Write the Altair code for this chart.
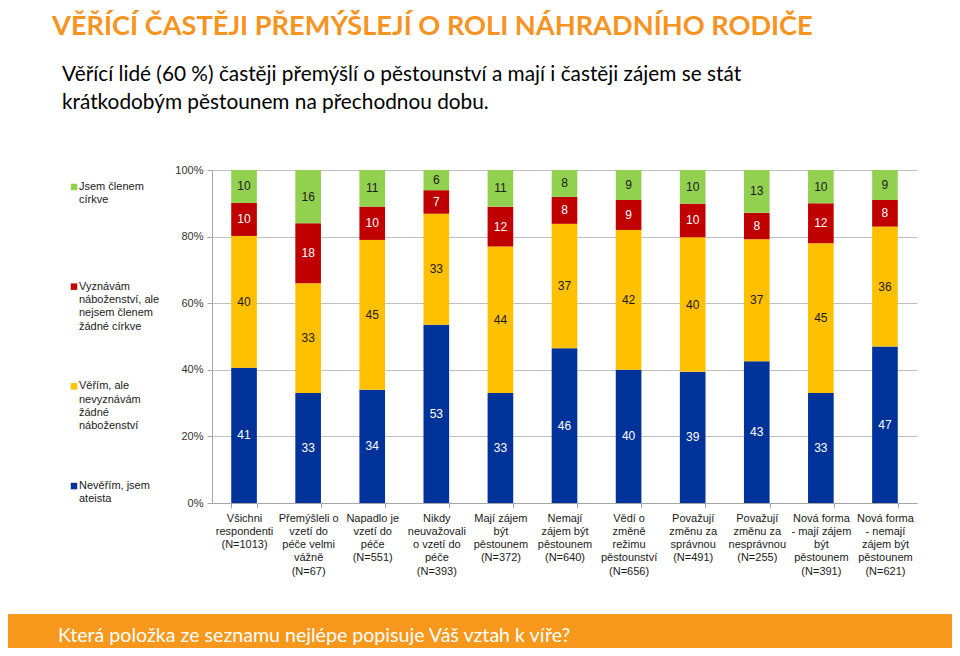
import altair as alt
import pandas as pd

# ---- data ----
categories = [
    "Všichni|respondenti|(N=1013)",
    "Přemýšleli o|vzetí do|péče velmi|vážně|(N=67)",
    "Napadlo je|vzetí do|péče|(N=551)",
    "Nikdy|neuvažovali|o vzetí do|péče|(N=393)",
    "Mají zájem|být|pěstounem|(N=372)",
    "Nemají|zájem být|pěstounem|(N=640)",
    "Vědí o|změně|režimu|pěstounství|(N=656)",
    "Považují|změnu za|správnou|(N=491)",
    "Považují|změnu za|nesprávnou|(N=255)",
    "Nová forma|- mají zájem|být|pěstounem|(N=391)",
    "Nová forma|- nemají|zájem být|pěstounem|(N=621)",
]
series = [
    "Nevěřím, jsem|ateista",
    "Věřím, ale|nevyznávám|žádné|náboženství",
    "Vyznávám|náboženství, ale|nejsem členem|žádné církve",
    " Jsem členem|církve",
]
atheist = [41, 33, 34, 53, 33, 46, 40, 39, 43, 33, 47]
believer = [40, 33, 45, 33, 44, 37, 42, 40, 37, 45, 36]
religion = [10, 18, 10, 7, 12, 8, 9, 10, 8, 12, 8]
church = [10, 16, 11, 6, 11, 8, 9, 10, 13, 10, 9]
colors = ["#003399", "#FFC000", "#C00000", "#92D050"]
label_colors = ["#FFFFFF", "#1A1A1A", "#FFFFFF", "#1A1A1A"]
y_ticks = [0, 0.2, 0.4, 0.6, 0.8, 1.0]

title_text = "VĚŘÍCÍ ČASTĚJI PŘEMÝŠLEJÍ O ROLI NÁHRADNÍHO RODIČE"
subtitle_lines = [
    "Věřící lidé (60 %) častěji přemýšlí o pěstounství a mají i častěji zájem se stát",
    "krátkodobým pěstounem na přechodnou dobu.",
]
footer_text = "Která položka ze seznamu nejlépe popisuje Váš vztah k víře?"

rows = []
for vals, s_i in zip([atheist, believer, religion, church], range(4)):
    for c_i, v in enumerate(vals):
        rows.append({"category": categories[c_i], "cat_order": c_i,
                     "series": series[s_i], "order": s_i, "value": v,
                     "lab_color": label_colors[s_i]})
df = pd.DataFrame(rows)

color_scale = alt.Scale(domain=series, range=colors)
W, H = 705, 333
AXIS_FONT = "Liberation Sans"
SLIDE_FONT = "Lato"

base = alt.Chart(df).transform_stack(
    stack="value", groupby=["category"], as_=["y0", "y1"],
    offset="normalize", sort=[alt.SortField("order", "ascending")]
).transform_calculate(mid="(datum.y0 + datum.y1) / 2")

x_enc = alt.X("category:N", sort=categories, title=None,
              scale=alt.Scale(paddingInner=0.6, paddingOuter=0.3),
              axis=alt.Axis(labelExpr="split(datum.label, '|')", labelAngle=0,
                            labelFont=AXIS_FONT, labelFontSize=11, labelColor="#1A1A1A",
                            labelLineHeight=13.3, labelPadding=4, labelLimit=200,
                            labelBaseline="top",
                            tickBand="extent", ticks=True, tickSize=5,
                            tickColor="#A6A6A6", domainColor="#A6A6A6", grid=False))

bars = base.mark_bar().encode(
    x=x_enc,
    y=alt.Y("y0:Q", title=None, scale=alt.Scale(domain=[0, 1]),
            axis=alt.Axis(values=y_ticks, format="%", labelFont=AXIS_FONT,
                          labelFontSize=11, labelColor="#333333", labelPadding=4,
                          tickSize=5, tickColor="#A6A6A6", domainColor="#A6A6A6",
                          gridColor="#BFBFBF")),
    y2="y1:Q",
    color=alt.Color("series:N", scale=color_scale, legend=None),
)

labels = base.mark_text(font=AXIS_FONT, fontSize=12, baseline="middle").encode(
    x=alt.X("category:N", sort=categories),
    y=alt.Y("mid:Q", scale=alt.Scale(domain=[0, 1]), axis=None),
    text=alt.Text("value:Q"),
    color=alt.Color("lab_color:N", scale=None),
)

# legend built from the series list
leg_df = pd.DataFrame({"series": series, "pos": list(range(4))})
leg_y = alt.Y("series:N", sort=list(reversed(series)),
              scale=alt.Scale(type="point", padding=0.17), axis=None)
leg_sym = alt.Chart(leg_df).mark_square(size=42, opacity=1).encode(
    x=alt.value(-138), y=leg_y,
    color=alt.Color("series:N", scale=color_scale, legend=None))
leg_txt = alt.Chart(leg_df).mark_text(
    font=AXIS_FONT, fontSize=11, align="left", baseline="top", dy=-6,
    lineBreak="|", lineHeight=13.3, color="#1A1A1A").encode(
    x=alt.value(-133), y=leg_y, text="series:N")

# slide decorations
title = alt.Chart(pd.DataFrame({"t": [title_text]})).mark_text(
    font=SLIDE_FONT, fontSize=27.2, fontWeight="bold", color="#F7931E",
    align="left", baseline="alphabetic").encode(
    x=alt.value(-160), y=alt.value(-135), text="t:N")
subtitle = alt.Chart(pd.DataFrame({"t": ["|".join(subtitle_lines)]})).mark_text(
    font=SLIDE_FONT, fontSize=20.8, color="#000000", align="left",
    baseline="alphabetic", lineBreak="|", lineHeight=28).encode(
    x=alt.value(-150), y=alt.value(-89), text="t:N")
band = alt.Chart(pd.DataFrame({"t": [footer_text]})).mark_rect(color="#F7981D").encode(
    x=alt.value(-204), x2=alt.value(740), y=alt.value(444), y2=alt.value(478))
footer = alt.Chart(pd.DataFrame({"t": [footer_text]})).mark_text(
    font=SLIDE_FONT, fontSize=19.6, color="#FFFFFF", align="left",
    baseline="alphabetic").encode(
    x=alt.value(-154), y=alt.value(472), text="t:N")

chart = alt.layer(bars, labels, leg_sym, leg_txt, band, title, subtitle, footer).resolve_scale(
    y="independent", color="independent"
).properties(
    width=W, height=H,
    padding={"left": 204, "top": 162, "right": 35, "bottom": 145},
    autosize=alt.AutoSizeParams(type="none"),
).configure_view(stroke=None).configure_axis(labelFont=AXIS_FONT)

chart.save("out.html", embed_options={"renderer": "svg", "actions": False})
